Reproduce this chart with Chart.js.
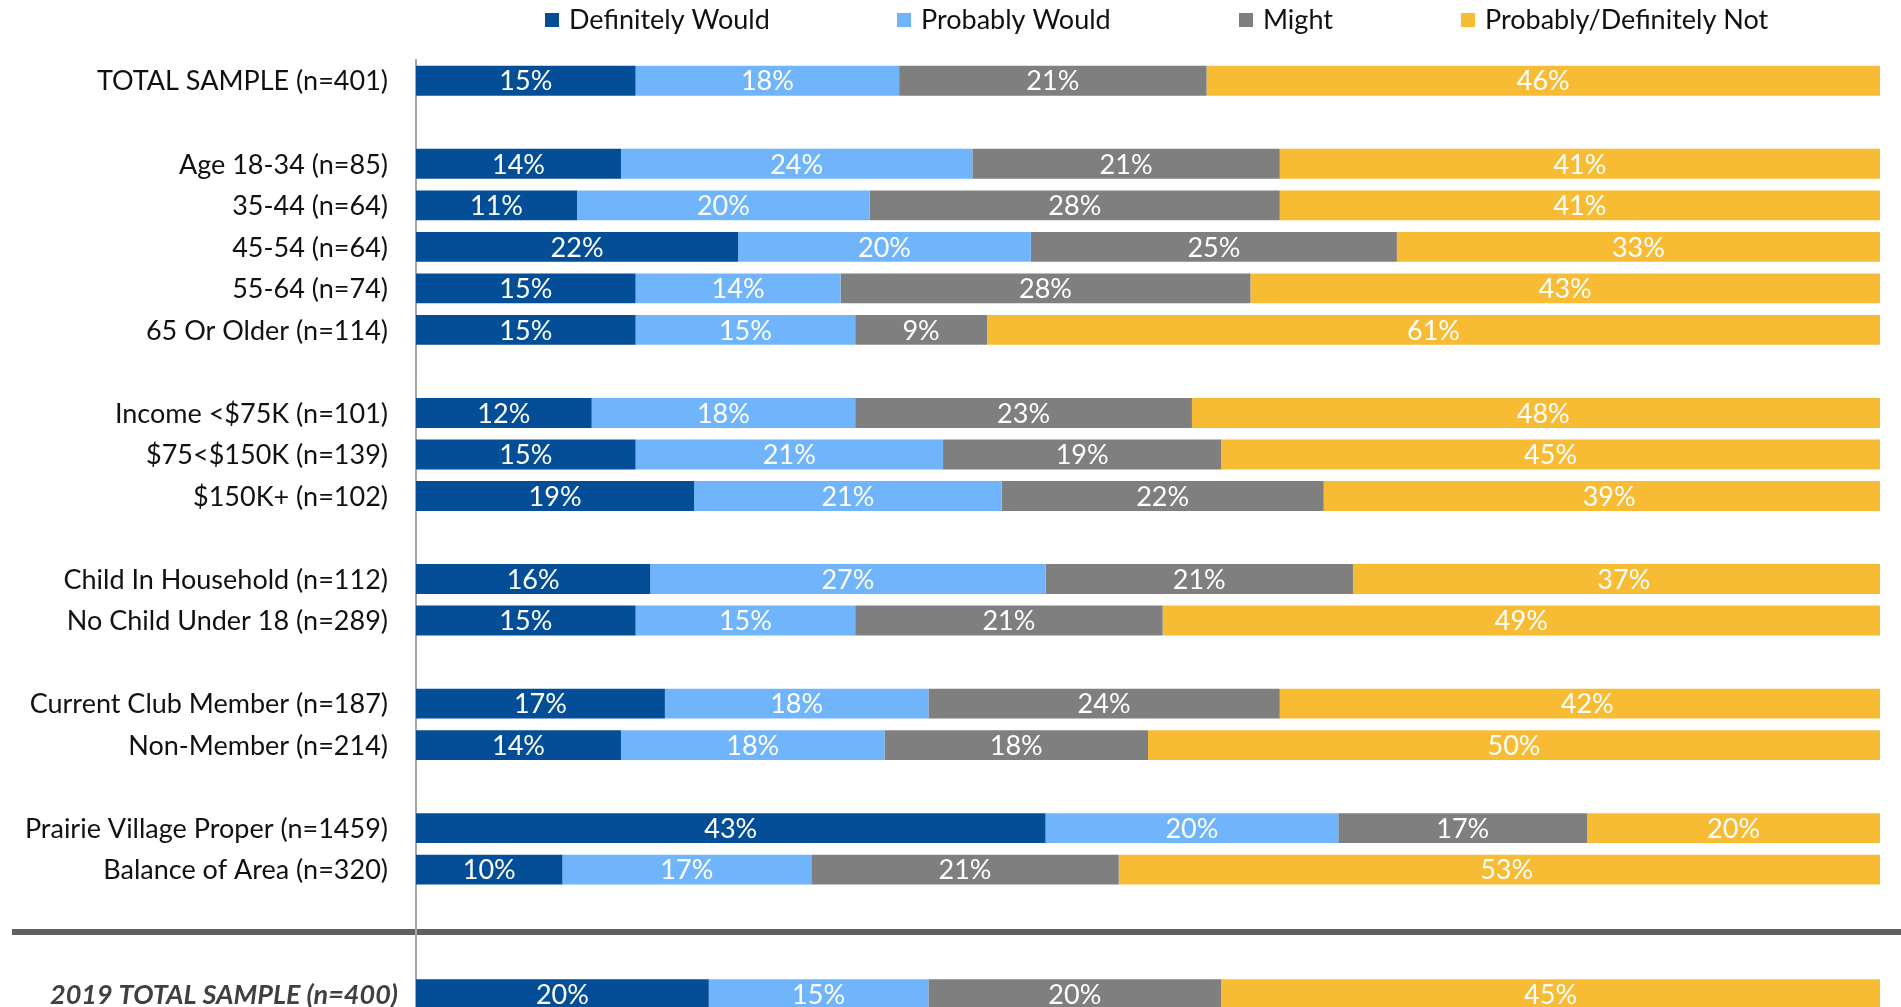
<!DOCTYPE html>
<html>
<head>
<meta charset="utf-8">
<title>Likelihood by segment</title>
<script src="https://cdn.jsdelivr.net/npm/chart.js@4.4.1/dist/chart.umd.min.js"></script>
<style>
  html, body { margin: 0; padding: 0; background: #fff; overflow: hidden; }
  #wrap { width: 1901px; height: 1015px; }
</style>
</head>
<body>
<div id="wrap"><canvas id="likelihoodChart" width="1901" height="1015"></canvas></div>
<script>
// rows top to bottom; '' rows are spacers between the groups
const rowLabels = [
    'TOTAL SAMPLE (n=401)', '',
    'Age 18-34 (n=85)', '35-44 (n=64)', '45-54 (n=64)', '55-64 (n=74)', '65 Or Older (n=114)', '',
    'Income <$75K (n=101)', '$75<$150K (n=139)', '$150K+ (n=102)', '',
    'Child In Household (n=112)', 'No Child Under 18 (n=289)', '',
    'Current Club Member (n=187)', 'Non-Member (n=214)', '',
    'Prairie Village Proper (n=1459)', 'Balance of Area (n=320)', '', '',
    '2019 TOTAL SAMPLE (n=400)'
];

const seriesNames = ['Definitely Would', 'Probably Would', 'Might', 'Probably/Definitely Not'];

const definitelyWould = [15, null, 14, 11, 22, 15, 15, null, 12, 15, 19, null, 16, 15, null, 17, 14, null, 43, 10, null, null, 20];
const probablyWould   = [18, null, 24, 20, 20, 14, 15, null, 18, 21, 21, null, 27, 15, null, 18, 18, null, 20, 17, null, null, 15];
const might           = [21, null, 21, 28, 25, 28,  9, null, 23, 19, 22, null, 21, 21, null, 24, 18, null, 17, 21, null, null, 20];
const probablyNot     = [46, null, 41, 41, 33, 43, 61, null, 48, 45, 39, null, 37, 49, null, 42, 50, null, 20, 53, null, null, 45];

// last row is the prior-year comparison, set off by a divider above it
const comparisonRow = rowLabels.length - 1;
const dividerAt = comparisonRow - 1.5;

const colors = ['#034E97', '#70B5FB', '#7F7F7F', '#F8BC34'];
const fontFamily = 'Lato, "Open Sans", sans-serif';
const fontSize = 27;

// legend squares along the top
const legendX = [545, 897, 1239, 1461];

const headerPlugin = {
    id: 'headerAndDivider',
    beforeDraw(chart) {
        const c = chart.ctx;
        const y = chart.scales.y.getPixelForValue(dividerAt);
        c.save();
        c.fillStyle = '#606060';
        c.fillRect(12, Math.round(y) - 3, chart.width - 12, 6);
        c.restore();
    },
    afterDraw(chart) {
        const c = chart.ctx;
        c.save();
        c.font = fontSize + 'px ' + fontFamily;
        c.textBaseline = 'middle';
        c.textAlign = 'left';
        chart.data.datasets.forEach((ds, i) => {
            c.fillStyle = ds.backgroundColor;
            c.fillRect(legendX[i], 13, 14, 14);
            c.fillStyle = '#111';
            c.fillText(ds.label, legendX[i] + 24, 20);
        });

        // row labels, right-aligned against the axis
        const yScale = chart.scales.y;
        c.textAlign = 'right';
        rowLabels.forEach((label, i) => {
            if (!label) return;
            const y = yScale.getPixelForValue(i);
            if (i === comparisonRow) {
                c.font = 'italic bold ' + fontSize + 'px ' + fontFamily;
                c.fillStyle = '#404040';
                c.fillText(label, 398, y + 1);
            } else {
                c.font = fontSize + 'px ' + fontFamily;
                c.fillStyle = '#111';
                c.fillText(label, 388, y + 1);
            }
        });
        c.restore();
    },
    afterDatasetsDraw(chart) {
        const c = chart.ctx;
        c.save();
        c.font = fontSize + 'px ' + fontFamily;
        c.fillStyle = '#fff';
        c.textAlign = 'center';
        c.textBaseline = 'middle';
        chart.data.datasets.forEach((ds, i) => {
            chart.getDatasetMeta(i).data.forEach((bar, j) => {
                const v = ds.data[j];
                if (v == null) return;
                c.fillText(v + '%', (bar.x + bar.base) / 2, bar.y + 1);
            });
        });
        c.restore();
    }
};

const seriesData = [definitelyWould, probablyWould, might, probablyNot];

new Chart(document.getElementById('likelihoodChart'), {
    type: 'bar',
    data: {
        labels: rowLabels,
        datasets: seriesNames.map((name, i) => ({
            label: name,
            data: seriesData[i],
            backgroundColor: colors[i],
            borderWidth: 0,
            clip: 0,
            categoryPercentage: 1,
            barPercentage: 0.72
        }))
    },
    options: {
        indexAxis: 'y',
        responsive: false,
        animation: false,
        layout: { padding: { top: 60, right: 21, bottom: 0, left: 0 } },
        plugins: {
            legend: { display: false },
            tooltip: { enabled: false }
        },
        scales: {
            x: {
                stacked: true,
                min: 0,
                max: 100,
                display: false
            },
            y: {
                stacked: true,
                grid: { display: false },
                border: { display: true, color: '#A6A6A6', width: 2 },
                ticks: { display: false },
                afterFit: scale => { scale.width = 416; }
            }
        }
    },
    plugins: [headerPlugin]
});
</script>
</body>
</html>
